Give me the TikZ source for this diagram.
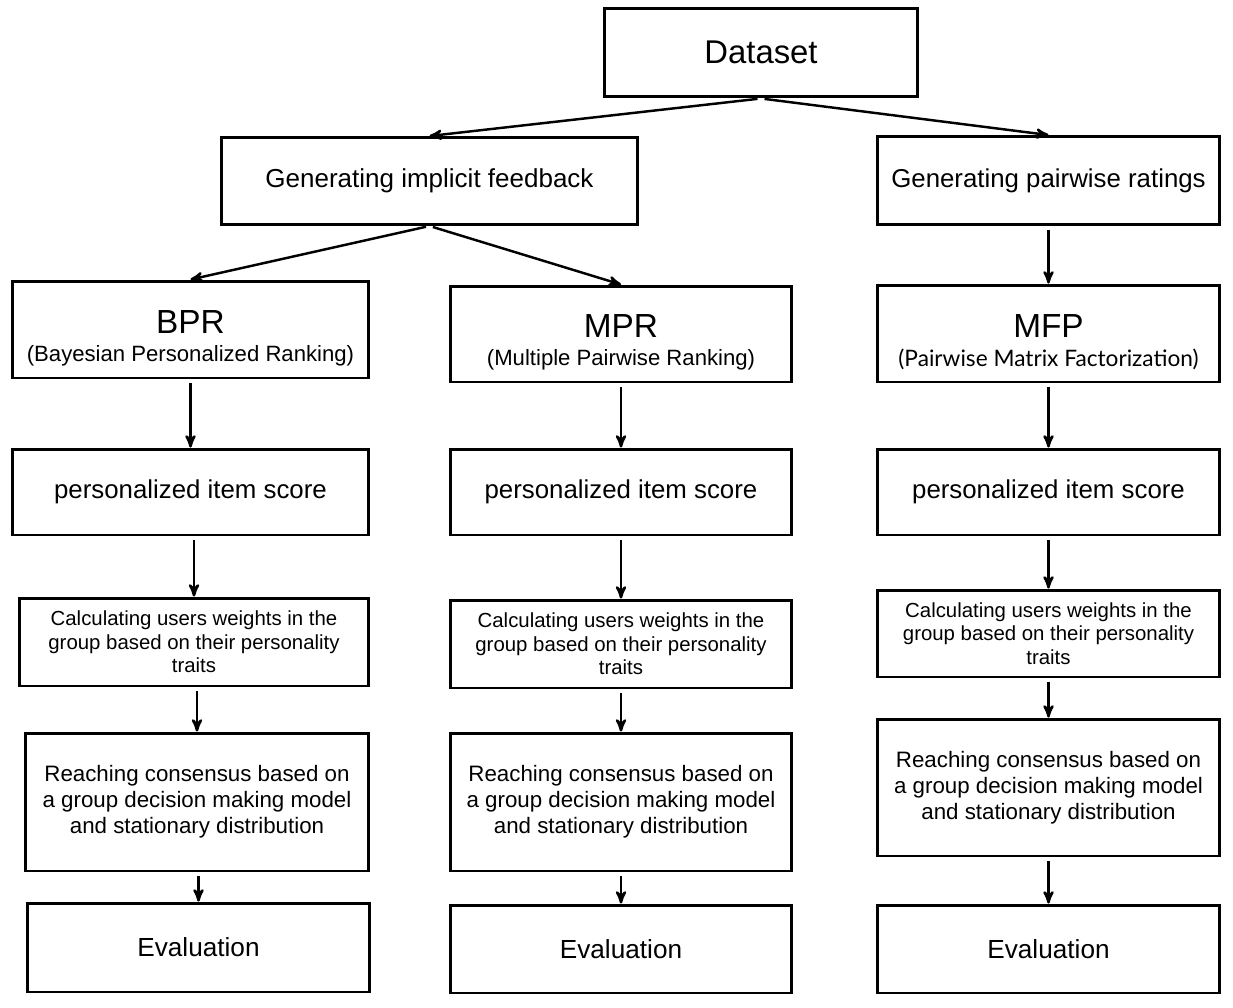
\documentclass[tikz,border=0pt]{standalone}
\usepackage{fontspec}
\setmainfont{Liberation Sans}
\newfontfamily\latofont{Lato}
\usetikzlibrary{arrows}

\tikzset{
 box/.style={draw, line width=1.7pt, inner sep=0pt, align=center},
 link/.style={line width=1.4pt, ->, >=stealth', shorten <=2pt}
}
\newcommand{\modeltitle}[1]{\rule{0pt}{23pt}{\fontsize{19}{20}\selectfont #1}}

\begin{document}
\begin{tikzpicture}[x=0.02cm, y=-0.02cm]
\useasboundingbox (0,0) rectangle (1233,1007);
% top
\node[box, minimum width=6.28cm, minimum height=1.78cm, font=\fontsize{18.7}{22}\selectfont] (data) at (761,52.5) {Dataset};
\node[box, minimum width=8.34cm, minimum height=1.74cm, font=\fontsize{14.8}{17}\selectfont] (impl) at (429.5,181) {Generating implicit feedback};
\node[box, minimum width=6.86cm, minimum height=1.76cm, font=\fontsize{14.7}{17}\selectfont] (pair) at (1048.5,180.5) {Generating pairwise ratings};
% models
\node[box, minimum width=7.14cm, minimum height=1.94cm] (bpr) at (190.5,329.5)
 {\modeltitle{BPR}\\[4pt]{\fontsize{12.6}{14}\selectfont (Bayesian Personalized Ranking)}};
\node[box, minimum width=6.84cm, minimum height=1.92cm] (mpr) at (621,334)
 {\modeltitle{MPR}\\[4pt]{\fontsize{12.6}{14}\selectfont (Multiple Pairwise Ranking)}};
\node[box, minimum width=6.86cm, minimum height=1.94cm] (mfp) at (1048.5,333.5)
 {\modeltitle{MFP}\\[4pt]{\latofont\fontsize{12.9}{14}\selectfont (Pairwise Matrix Factorization)}};
% scores
\node[box, minimum width=7.14cm, minimum height=1.72cm, font=\fontsize{14.7}{17}\selectfont] (pisA) at (190.5,492) {personalized item score};
\node[box, minimum width=6.84cm, minimum height=1.72cm, font=\fontsize{14.7}{17}\selectfont] (pisB) at (621,492) {personalized item score};
\node[box, minimum width=6.86cm, minimum height=1.72cm, font=\fontsize{14.7}{17}\selectfont] (pisC) at (1048.5,492) {personalized item score};
% weights
\node[box, minimum width=7.00cm, minimum height=1.76cm, font=\fontsize{11.6}{13.4}\selectfont] (calA) at (194,642)
 {Calculating users weights in the\\group based on their personality\\traits};
\node[box, minimum width=6.84cm, minimum height=1.76cm, font=\fontsize{11.6}{13.4}\selectfont] (calB) at (621,644)
 {Calculating users weights in the\\group based on their personality\\traits};
\node[box, minimum width=6.86cm, minimum height=1.74cm, font=\fontsize{11.6}{13.4}\selectfont] (calC) at (1048.5,633.5)
 {Calculating users weights in the\\group based on their personality\\traits};
% consensus
\node[box, minimum width=6.88cm, minimum height=2.76cm, font=\fontsize{12.7}{14.7}\selectfont] (rchA) at (197,802)
 {Reaching consensus based on\\a group decision making model\\and stationary distribution};
\node[box, minimum width=6.84cm, minimum height=2.76cm, font=\fontsize{12.7}{14.7}\selectfont] (rchB) at (621,802)
 {Reaching consensus based on\\a group decision making model\\and stationary distribution};
\node[box, minimum width=6.86cm, minimum height=2.74cm, font=\fontsize{12.7}{14.7}\selectfont] (rchC) at (1048.5,787.5)
 {Reaching consensus based on\\a group decision making model\\and stationary distribution};
% evaluation
\node[box, minimum width=6.86cm, minimum height=1.78cm, font=\fontsize{14.9}{17}\selectfont] (evA) at (198.5,947.5) {Evaluation};
\node[box, minimum width=6.84cm, minimum height=1.76cm, font=\fontsize{14.9}{17}\selectfont] (evB) at (621,949) {Evaluation};
\node[box, minimum width=6.86cm, minimum height=1.76cm, font=\fontsize{14.9}{17}\selectfont] (evC) at (1048.5,949) {Evaluation};
% arrows
\draw[link] (data.south) -- (impl.north);
\draw[link] (data.south) -- (pair.north);
\draw[link] (impl.south) -- (bpr.north);
\draw[link] (impl.south) -- (mpr.north);
\draw[link] (pair.south) -- (mfp.north);
\foreach \a/\b in {bpr/pisA, pisA/calA, calA/rchA, rchA/evA,
                   mpr/pisB, pisB/calB, calB/rchB, rchB/evB,
                   mfp/pisC, pisC/calC, calC/rchC, rchC/evC}
 \draw[link] (\a.south -| \b.north) -- (\b.north);
\end{tikzpicture}
\end{document}
